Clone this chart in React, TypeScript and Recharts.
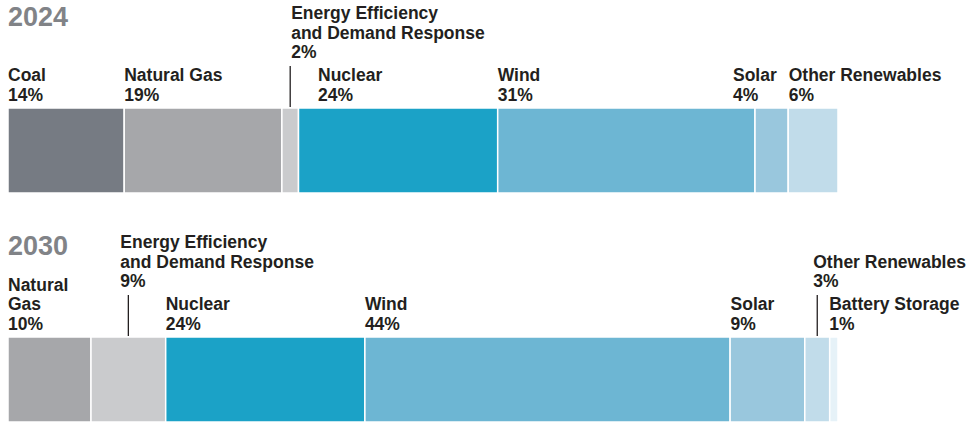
import React from 'react';
import { BarChart, Bar, XAxis, YAxis } from 'recharts';

// Segment names, in the order they are stacked
const segments2024 = ['Coal', 'Natural Gas', 'Energy Efficiency and Demand Response', 'Nuclear', 'Wind', 'Solar', 'Other Renewables'];
const values2024 = [14, 19, 2, 24, 31, 4, 6];
const lines2024 = [['Coal'], ['Natural Gas'], ['Energy Efficiency', 'and Demand Response'], ['Nuclear'], ['Wind'], ['Solar'], ['Other Renewables']];

const segments2030 = ['Natural Gas', 'Energy Efficiency and Demand Response', 'Nuclear', 'Wind', 'Solar', 'Other Renewables', 'Battery Storage'];
const values2030 = [10, 9, 24, 44, 9, 3, 1];
const lines2030 = [['Natural', 'Gas'], ['Energy Efficiency', 'and Demand Response'], ['Nuclear'], ['Wind'], ['Solar'], ['Other Renewables'], ['Battery Storage']];

const colors: Record<string, string> = {
  Coal: '#767b83',
  'Natural Gas': '#a6a7aa',
  'Energy Efficiency and Demand Response': '#cacbcd',
  Nuclear: '#1ba2c7',
  Wind: '#6db6d3',
  Solar: '#99c7dd',
  'Other Renewables': '#c1dcea',
  'Battery Storage': '#e6f2f8',
};

// label placement: dx from segment start (or centre when raised with a leader line)
type Place = { dx: number; raised?: boolean };
const place2024: Place[] = [{ dx: 0 }, { dx: 0 }, { dx: 1, raised: true }, { dx: 19.5 }, { dx: 0 }, { dx: -22 }, { dx: 0.5 }];
const place2030: Place[] = [{ dx: 0 }, { dx: -8, raised: true }, { dx: 0 }, { dx: 0 }, { dx: 0.5 }, { dx: -4, raised: true }, { dx: -0.5 }];

const FONT = '"Liberation Sans", Arial, sans-serif';
const LINE_H = 19.5;

interface YearBarProps {
  year: string;
  segments: string[];
  values: number[];
  lines: string[][];
  places: Place[];
  height: number;
  bottom: number;
}

const YearBar = ({ year, segments, values, lines, places, height, bottom }: YearBarProps) => {
  const row: Record<string, any> = { year };
  segments.forEach((s, i) => (row[s] = values[i]));

  const renderLabel = (i: number) => (props: any) => {
    const x = Number(props.x);
    const y = Number(props.y);
    const w = Number(props.width);
    const p = places[i];
    const text = [...lines[i], `${values[i]}%`];
    if (p.raised) {
      const cx = x + w / 2;
      const last = y - 50;
      return (
        <g>
          <line x1={cx} x2={cx} y1={y - 42} y2={y - 1} stroke="#231f20" strokeWidth={1.3} />
          {text.map((t, k) => (
            <text key={k} x={cx + p.dx} y={last - (text.length - 1 - k) * LINE_H} fill="#231f20"
              fontFamily={FONT} fontWeight={700} fontSize={17.5}>{t}</text>
          ))}
        </g>
      );
    }
    const last = y - 7.5;
    return (
      <g>
        {text.map((t, k) => (
          <text key={k} x={x + p.dx} y={last - (text.length - 1 - k) * LINE_H} fill="#231f20"
            fontFamily={FONT} fontWeight={700} fontSize={17.5}>{t}</text>
        ))}
      </g>
    );
  };

  return (
    <div style={{ position: 'relative', width: 968, height }}>
      <div style={{ position: 'absolute', left: 8, top: 4, fontFamily: FONT, fontWeight: 700, fontSize: 27, lineHeight: '27px', color: '#818387' }}>
        {year}
      </div>
      <BarChart width={968} height={height} data={[row]} layout="vertical" barCategoryGap={0}
        margin={{ top: 108, right: 130, bottom, left: 8 }}>
        <XAxis type="number" domain={[0, 100]} hide />
        <YAxis type="category" dataKey="year" hide />
        {segments.map((s, i) => (
          <Bar key={s} dataKey={s} stackId="a" fill={colors[s]} stroke="#fff" strokeWidth={1.5}
            isAnimationActive={false} label={renderLabel(i)} />
        ))}
      </BarChart>
    </div>
  );
};

export default function App() {
  return (
    <div style={{ position: 'absolute', left: 0, top: 0, width: 968, height: 423, background: '#fff', overflow: 'hidden' }}>
      <YearBar year="2024" segments={segments2024} values={values2024} lines={lines2024} places={place2024} height={229} bottom={36} />
      <YearBar year="2030" segments={segments2030} values={values2030} lines={lines2030} places={place2030} height={194} bottom={1} />
    </div>
  );
}
